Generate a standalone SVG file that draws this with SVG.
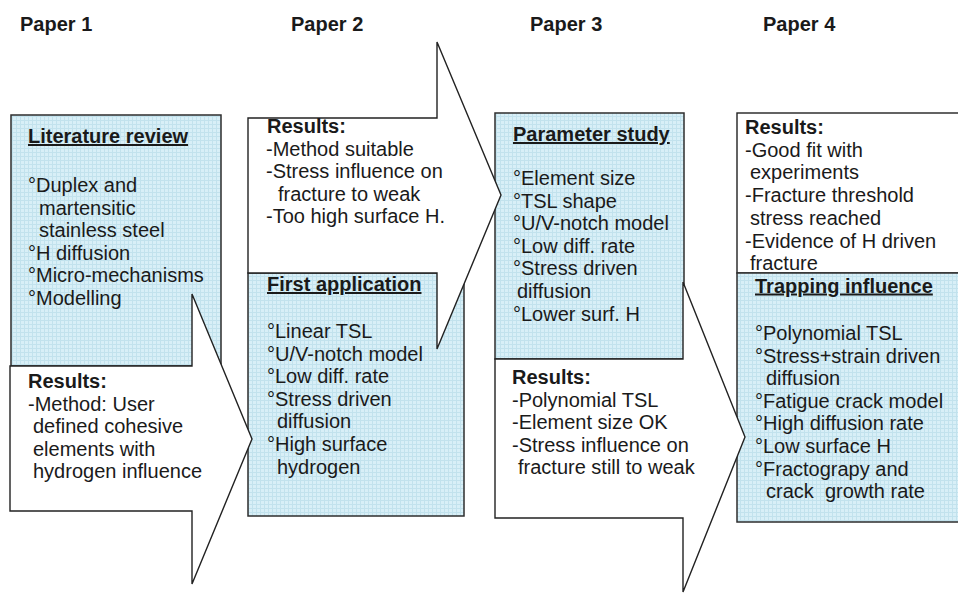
<svg xmlns="http://www.w3.org/2000/svg" width="958" height="593" viewBox="0 0 958 593">
<defs>
<pattern id="grid" width="4" height="4" patternUnits="userSpaceOnUse">
<rect width="4" height="4" fill="#d8eff7"/>
<path d="M0 0.5H4M0.5 0V4" stroke="#c2e2ed" stroke-width="1"/>
</pattern>
<style>
text{font-family:"Liberation Sans",Arial,sans-serif;font-size:20px;fill:#1a1a1a}
.b{font-weight:bold}
.u{font-weight:bold;text-decoration:underline}
.blue{fill:url(#grid);stroke:#2e2e2e;stroke-width:1.5}
.white{fill:#ffffff;stroke:#222222;stroke-width:1.4;stroke-linejoin:miter}
</style>
</defs>
<rect width="958" height="593" fill="#ffffff"/>

<g id="titles">
<text class="b" x="20" y="31">Paper 1</text>
<text class="b" x="291" y="31">Paper 2</text>
<text class="b" x="530" y="31">Paper 3</text>
<text class="b" x="763" y="31">Paper 4</text>
</g>

<g id="paper1-literature">
<rect class="blue" x="11" y="115" width="210" height="251"/>
<text class="u" x="28" y="143">Literature review</text>
<text x="28" y="192">°Duplex and</text>
<text x="39" y="214.6">martensitic</text>
<text x="39" y="237.2">stainless steel</text>
<text x="28" y="259.8">°H diffusion</text>
<text x="28" y="282.4">°Micro-mechanisms</text>
<text x="28" y="305">°Modelling</text>
</g>

<g id="paper2-first-application">
<rect class="blue" x="248" y="273" width="216" height="243"/>
<text class="u" x="267" y="291">First application</text>
<text x="267" y="338">°Linear TSL</text>
<text x="267" y="360.6">°U/V-notch model</text>
<text x="267" y="383.2">°Low diff. rate</text>
<text x="267" y="405.8">°Stress driven</text>
<text x="277" y="428.4">diffusion</text>
<text x="267" y="451">°High surface</text>
<text x="277" y="473.6">hydrogen</text>
</g>

<g id="paper3-parameter-study">
<rect class="blue" x="495" y="113" width="189" height="246"/>
<text class="u" x="513" y="141">Parameter study</text>
<text x="513" y="185">°Element size</text>
<text x="513" y="207.6">°TSL shape</text>
<text x="513" y="230.2">°U/V-notch model</text>
<text x="513" y="252.8">°Low diff. rate</text>
<text x="513" y="275.4">°Stress driven</text>
<text x="517" y="298">diffusion</text>
<text x="513" y="320.6">°Lower surf. H</text>
</g>

<g id="paper4-results">
<rect class="white" x="737" y="113" width="240" height="160"/>
<text class="b" x="745" y="134">Results:</text>
<text x="745" y="156.7">-Good fit with</text>
<text x="750" y="179.4">experiments</text>
<text x="745" y="202.1">-Fracture threshold</text>
<text x="750" y="224.8">stress reached</text>
<text x="745" y="247.5">-Evidence of H driven</text>
<text x="750" y="270">fracture</text>
</g>

<g id="paper4-trapping">
<rect class="blue" x="737" y="273" width="240" height="249"/>
<text class="u" x="755" y="292.5">Trapping influence</text>
<text x="755" y="340">°Polynomial TSL</text>
<text x="755" y="362.6">°Stress+strain driven</text>
<text x="766" y="385.2">diffusion</text>
<text x="755" y="407.8">°Fatigue crack model</text>
<text x="755" y="430.4">°High diffusion rate</text>
<text x="755" y="453">°Low surface H</text>
<text x="755" y="475.6">°Fractograpy and</text>
<text x="766" y="498.2" xml:space="preserve">crack  growth rate</text>
</g>

<g id="paper1-results">
<polygon class="white" points="10,366 192,366 192,294 252,439 192,584 192,511 10,511"/>
<text class="b" x="28" y="388">Results:</text>
<text x="28" y="410.6">-Method: User</text>
<text x="33" y="433.2">defined cohesive</text>
<text x="33" y="455.8">elements with</text>
<text x="33" y="478.4">hydrogen influence</text>
</g>

<g id="paper2-results">
<polygon class="white" points="248,118 437,118 437,42 501,195 437,349 437,273 248,273"/>
<text class="b" x="267" y="133">Results:</text>
<text x="266" y="155.6">-Method suitable</text>
<text x="266" y="178.2">-Stress influence on</text>
<text x="278" y="200.8">fracture to weak</text>
<text x="266" y="223.4">-Too high surface H.</text>
</g>

<g id="paper3-results">
<polygon class="white" points="495,359 683,359 683,282 745,437 683,592 683,518 495,518"/>
<text class="b" x="512" y="384">Results:</text>
<text x="512" y="406.6">-Polynomial TSL</text>
<text x="512" y="429.2">-Element size OK</text>
<text x="512" y="451.8">-Stress influence on</text>
<text x="518" y="474.4">fracture still to weak</text>
</g>
</svg>
